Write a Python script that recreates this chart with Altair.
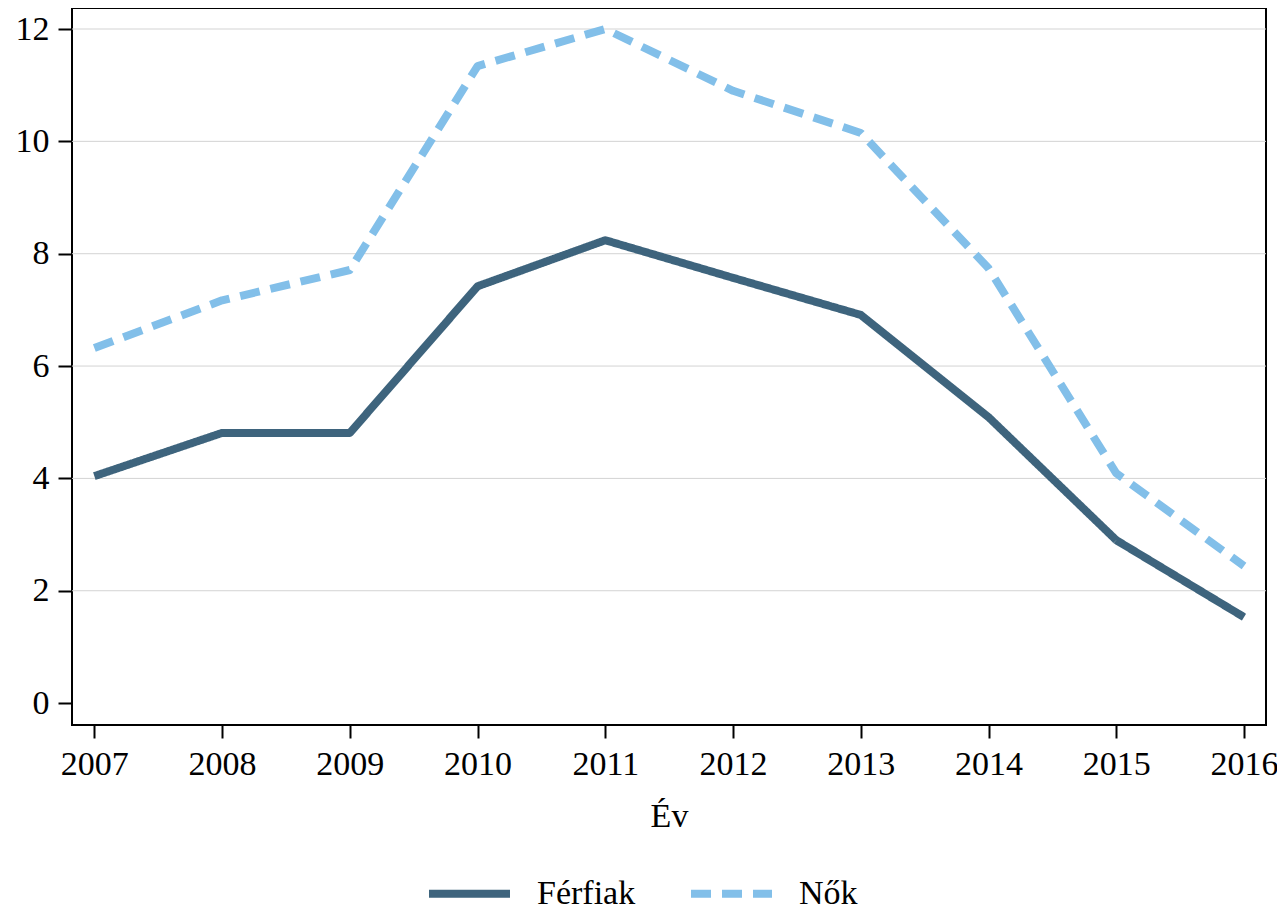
import altair as alt
import pandas as pd

years = [2007, 2008, 2009, 2010, 2011, 2012, 2013, 2014, 2015, 2016]
ferfiak = [4.04, 4.81, 4.81, 7.42, 8.24, 7.57, 6.91, 5.09, 2.90, 1.53]
nok = [6.32, 7.17, 7.71, 11.34, 12.00, 10.90, 10.15, 7.74, 4.09, 2.44]
series_names = ["Férfiak", "Nők"]
y_ticks = [0, 2, 4, 6, 8, 10, 12]
grid_values = [2, 4, 6, 8, 10, 12]

df = pd.DataFrame(
    {"Év": years * 2,
     "value": ferfiak + nok,
     "series": [series_names[0]] * len(years) + [series_names[1]] * len(years)}
)
grid_df = pd.DataFrame({"g": grid_values})

FONT = "Times New Roman, Liberation Serif, Tinos, serif"

xscale = alt.Scale(domain=[2006.825, 2016.172], nice=False, zero=False)
yscale = alt.Scale(domain=[-0.39, 12.374], nice=False, zero=False)

yaxis = alt.Axis(values=y_ticks, title=None, grid=False, domain=False,
                 tickSize=14, tickWidth=2, tickColor="black",
                 labelFont=FONT, labelFontSize=34, labelColor="black", labelPadding=9)

grid = alt.Chart(grid_df).mark_rule(color="#D3D3D3", strokeWidth=1).encode(
    y=alt.Y("g:Q", scale=yscale, axis=yaxis)
)

lines = alt.Chart(df).mark_line(strokeWidth=8, strokeCap="butt", strokeJoin="round").encode(
    x=alt.X("Év:Q", scale=xscale,
            axis=alt.Axis(values=years, format="d", title="Év", grid=False, domain=False,
                          tickSize=13, tickWidth=2, tickColor="black",
                          labelFont=FONT, labelFontSize=34, labelColor="black", labelPadding=9,
                          titleFont=FONT, titleFontSize=34, titleFontWeight="normal",
                          titleColor="black", titlePadding=18)),
    y=alt.Y("value:Q", scale=yscale, axis=yaxis),
    color=alt.Color("series:N", scale=alt.Scale(domain=series_names, range=["#3E647D", "#82BFE9"]),
                    legend=alt.Legend(title=None, orient="none", legendX=380, legendY=868,
                                      direction="horizontal", symbolType="M-3,0H3",
                                      symbolSize=729, symbolStrokeWidth=8,
                                      labelFont=FONT, labelFontSize=34, labelColor="black",
                                      labelOffset=50, columnPadding=39)),
    strokeDash=alt.StrokeDash("series:N",
                              scale=alt.Scale(domain=series_names, range=[[1, 0], [20, 11]]),
                              legend=None),
    detail="series:N",
)

chart = alt.layer(grid, lines).properties(
    width=1194, height=717,
    autosize=alt.AutoSizeParams(type="none"),
    padding={"left": 64, "top": 0, "right": 11, "bottom": 183},
    background="white",
).configure_view(stroke="black", strokeWidth=2)

chart.save("out.html", embed_options={"renderer": "svg", "actions": False})
